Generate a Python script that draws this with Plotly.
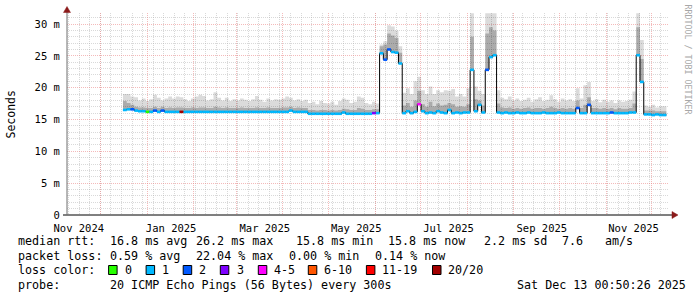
import pandas as pd
import plotly.graph_objects as go

# ---------------- data ----------------
series_start = "2024-12-16 00:00"   # first consolidated step (2.5 days each)
step_freq = "60h"

median_ms = [
    16.5, 16.6, 16.6, 16.4, 16.3, 16.3, 16.2, 16.2, 16.4, 16.2,
    16.4, 16.2, 16.2, 16.2, 16.2, 16.2, 16.2, 16.2, 16.2, 16.2,
    16.2, 16.2, 16.2, 16.2, 16.2, 16.2, 16.2, 16.2, 16.2, 16.2,
    16.2, 16.2, 16.2, 16.2, 16.2, 16.2, 16.2, 16.2, 16.2, 16.2,
    16.2, 16.2, 16.2, 16.2, 16.4, 16.2, 16.2, 16.2, 16.2, 15.9,
    15.9, 15.9, 15.9, 15.9, 15.9, 15.9, 15.9, 15.9, 16.1, 15.9,
    15.9, 15.9, 15.9, 15.9, 15.9, 15.9, 16.0, 16.0, 25.4, 24.4,
    26.0, 25.6, 25.5, 23.8, 16.0, 16.3, 16.0, 16.2, 17.4, 16.3,
    16.0, 16.1, 16.0, 16.3, 16.1, 16.0, 16.5, 16.0, 16.1, 16.0,
    16.1, 16.1, 22.8, 16.3, 17.3, 16.1, 22.8, 24.8, 25.1, 16.1,
    16.0, 16.1, 16.0, 16.0, 16.1, 16.0, 16.0, 16.1, 16.0, 16.0,
    16.0, 16.1, 16.0, 16.0, 16.0, 16.1, 16.0, 16.0, 16.0, 16.0,
    16.8, 16.0, 16.0, 17.3, 16.0, 16.0, 16.0, 16.0, 16.0, 16.1,
    16.0, 16.0, 16.0, 16.0, 16.1, 16.1, 25.1, 20.9, 15.8, 15.8,
    15.7, 15.8, 15.7, 15.7,
]

smoke_max_ms = [
    19.0, 19.0, 18.6, 18.5, 18.0, 18.3, 17.9, 18.2, 18.9, 18.4,
    18.0, 18.3, 18.6, 18.3, 18.6, 18.5, 18.2, 17.9, 18.3, 18.6,
    18.9, 18.7, 18.0, 18.2, 19.3, 18.4, 18.0, 18.4, 17.9, 18.2,
    18.0, 18.3, 18.1, 17.9, 18.2, 18.7, 18.1, 17.8, 18.3, 18.0,
    18.2, 18.1, 18.3, 18.6, 18.4, 18.0, 18.2, 17.9, 18.1, 17.6,
    17.8, 17.4, 17.9, 17.6, 17.5, 17.8, 17.3, 17.9, 18.3, 18.1,
    17.6, 17.8, 18.6, 18.4, 17.6, 17.4, 17.8, 17.5, 26.8, 27.3,
    29.8, 29.6, 29.0, 26.5, 19.2, 19.9, 19.0, 21.0, 21.7, 19.6,
    19.0, 20.2, 19.0, 19.6, 19.3, 19.6, 19.5, 19.8, 18.6, 19.0,
    18.6, 19.9, 31.7, 20.2, 19.5, 19.0, 31.7, 31.7, 31.7, 19.6,
    18.4, 18.2, 18.6, 18.0, 18.3, 17.9, 18.1, 18.4, 17.8, 18.2,
    18.5, 17.9, 18.1, 18.8, 18.2, 17.8, 18.3, 18.0, 18.2, 17.9,
    19.9, 18.3, 20.4, 20.9, 17.9, 18.2, 17.7, 18.1, 17.8, 18.0,
    17.6, 18.0, 17.8, 17.9, 18.1, 19.4, 31.7, 27.5, 17.2, 17.0,
    17.3, 16.9, 17.1, 17.1,
]

smoke_mid_ms = [
    17.9, 17.6, 17.3, 17.0, 16.9, 16.9, 16.8, 16.8, 17.0, 16.8,
    17.0, 16.8, 16.9, 16.8, 16.9, 16.9, 16.8, 16.8, 16.9, 16.8,
    16.9, 16.9, 16.8, 16.8, 17.0, 16.9, 16.8, 16.9, 16.8, 16.8,
    16.8, 16.9, 16.8, 16.8, 16.8, 16.9, 16.8, 16.8, 16.9, 16.8,
    16.8, 16.8, 16.9, 16.9, 17.0, 16.8, 16.9, 16.8, 16.8, 16.5,
    16.5, 16.4, 16.5, 16.5, 16.4, 16.5, 16.4, 16.5, 16.7, 16.6,
    16.5, 16.5, 16.8, 16.7, 16.5, 16.5, 16.6, 16.6, 26.5, 26.8,
    28.5, 28.2, 27.8, 25.5, 17.2, 17.6, 17.0, 18.0, 19.5, 17.4,
    17.0, 17.8, 17.1, 17.5, 17.2, 17.3, 17.6, 17.4, 17.0, 17.1,
    17.0, 17.4, 28.0, 18.2, 18.0, 17.2, 28.5, 29.5, 29.0, 17.5,
    16.9, 16.8, 16.9, 16.7, 16.8, 16.7, 16.8, 16.9, 16.7, 16.8,
    16.8, 16.7, 16.8, 17.0, 16.8, 16.7, 16.8, 16.7, 16.8, 16.7,
    18.0, 16.8, 17.3, 18.5, 16.8, 16.8, 16.7, 16.8, 16.7, 16.8,
    16.6, 16.8, 16.7, 16.7, 16.8, 17.5, 29.5, 24.5, 16.4, 16.4,
    16.4, 16.3, 16.3, 16.3,
]

# index into loss_labels for each step
loss_class = [
    1, 1, 2, 1, 1, 1, 0, 1, 2, 1,
    2, 1, 1, 1, 1, 7, 1, 1, 1, 1,
    1, 1, 1, 1, 1, 1, 1, 1, 1, 1,
    1, 1, 1, 1, 1, 1, 1, 1, 1, 1,
    1, 1, 1, 1, 1, 1, 1, 1, 1, 1,
    1, 1, 1, 1, 1, 1, 1, 1, 1, 1,
    1, 1, 1, 1, 1, 1, 3, 1, 1, 2,
    2, 1, 1, 1, 1, 1, 1, 1, 4, 1,
    1, 1, 1, 1, 1, 1, 1, 1, 1, 1,
    1, 1, 1, 1, 1, 1, 2, 1, 1, 1,
    1, 1, 1, 1, 1, 1, 1, 1, 1, 1,
    1, 1, 1, 1, 1, 1, 1, 1, 1, 1,
    2, 1, 1, 2, 1, 1, 1, 1, 1, 2,
    1, 1, 1, 1, 1, 1, 1, 1, 1, 1,
    1, 1, 1, 1,
]

loss_labels = ["0", "1", "2", "3", "4-5", "6-10", "11-19", "20/20"]
loss_colors = ["#26ff00", "#00b8ff", "#0059ff", "#7e00ff",
               "#ff00ff", "#ff5500", "#ff0000", "#a10000"]

y_tick_vals = [0, 5, 10, 15, 20, 25, 30]
y_tick_text = ["0", "5 m", "10 m", "15 m", "20 m", "25 m", "30 m"]
y_minor_vals = [1, 2, 3, 4, 6, 7, 8, 9, 11, 12, 13, 14, 16, 17, 18, 19,
                21, 22, 23, 24, 26, 27, 28, 29, 31]

x_label_dates = ["2024-11-16 18:00", "2025-01-16 22:00", "2025-03-19 23:00",
                 "2025-05-19 12:00", "2025-07-19 17:00", "2025-09-19 11:00",
                 "2025-11-19 06:00"]
x_label_text = ["Nov 2024", "Jan 2025", "Mar 2025", "May 2025",
                "Jul 2025", "Sep 2025", "Nov 2025"]
month_lines = pd.date_range("2024-12-01", "2025-12-01", freq="MS")
week_lines = pd.date_range("2024-11-10", "2025-12-12", freq="7D")

x_range = ["2024-11-08 22:34", "2025-12-12 17:20"]
y_range = [0, 31.73]

stat_rows = [
    ["median rtt:", "16.8 ms avg", "26.2 ms max", "15.8 ms min",
     "15.8 ms now", "2.2 ms sd", "7.6", "am/s"],
    ["packet loss:", "0.59 % avg", "22.04 % max", "0.00 % min", "0.14 % now"],
    ["loss color:"],
    ["probe:", "20 ICMP Echo Pings (56 Bytes) every 300s", "Sat Dec 13 00:50:26 2025"],
]

# ---------------- layout geometry (pixels) ----------------
FIG_W, FIG_H = 697, 297
L, R, T, B = 67, 669, 13, 215
PW, PH = R - L, B - T


def px(x):
    return (x - L) / PW


def py(y):
    return (B - y) / PH


n = len(median_ms)
times = pd.date_range(series_start, periods=n + 1, freq=step_freq)


def stepped(v):
    return list(v) + [v[-1]]


fig = go.Figure()

# smoke: light band (median .. max)
fig.add_trace(go.Scatter(x=times, y=stepped(median_ms), mode="lines",
                         line=dict(width=0, shape="hv"), hoverinfo="skip", showlegend=False))
fig.add_trace(go.Scatter(x=times, y=stepped(smoke_max_ms), mode="lines", fill="tonexty",
                         fillcolor="rgba(0,0,0,0.14)",
                         line=dict(width=0, shape="hv"), hoverinfo="skip", showlegend=False))
# smoke: dense band (median .. mid)
fig.add_trace(go.Scatter(x=times, y=stepped(median_ms), mode="lines",
                         line=dict(width=0, shape="hv"), hoverinfo="skip", showlegend=False))
fig.add_trace(go.Scatter(x=times, y=stepped(smoke_mid_ms), mode="lines", fill="tonexty",
                         fillcolor="rgba(0,0,0,0.22)",
                         line=dict(width=0, shape="hv"), hoverinfo="skip", showlegend=False))

# median black line
fig.add_trace(go.Scatter(x=times, y=stepped(median_ms), mode="lines",
                         line=dict(width=1, color="#000000", shape="hv"),
                         hoverinfo="skip", showlegend=False))

# loss-coloured median segments
for c, col in enumerate(loss_colors):
    xs, ys = [], []
    for i in range(n):
        if loss_class[i] == c:
            xs += [times[i], times[i + 1], None]
            ys += [median_ms[i], median_ms[i], None]
    if xs:
        fig.add_trace(go.Scatter(x=xs, y=ys, mode="lines",
                                 line=dict(width=2.6, color=col),
                                 connectgaps=False, hoverinfo="skip", showlegend=False))

# invisible trace for the label axis
fig.add_trace(go.Scatter(x=x_label_dates, y=[0] * len(x_label_dates), xaxis="x2",
                         mode="markers", marker=dict(opacity=0), hoverinfo="skip",
                         showlegend=False))

tick_font = dict(family="DejaVu Sans Mono", size=10.5, color="#000000")
leg_font = dict(family="DejaVu Sans Mono", size=11.7, color="#000000")

major_grid = "rgba(235,130,130,0.55)"
minor_grid = "rgba(170,170,170,0.45)"

fig.update_layout(
    width=FIG_W, height=FIG_H, autosize=False,
    margin=dict(l=L, r=FIG_W - R, t=T, b=FIG_H - B, pad=0),
    paper_bgcolor="#ffffff", plot_bgcolor="#ffffff",
    showlegend=False,
    xaxis=dict(
        type="date", range=x_range, showline=False, zeroline=False,
        tickvals=list(month_lines), ticktext=[""] * len(month_lines),
        showgrid=True, gridcolor=major_grid, griddash="1px,1px", gridwidth=1,
        ticks="",
        minor=dict(tickvals=list(week_lines), showgrid=True,
                   gridcolor=minor_grid, griddash="1px,1px", gridwidth=1, ticks=""),
        fixedrange=True,
    ),
    xaxis2=dict(
        type="date", range=x_range, overlaying="x", anchor="y", side="bottom",
        tickvals=x_label_dates, ticktext=x_label_text, showgrid=False,
        showline=False, zeroline=False, ticks="outside", ticklen=3,
        tickcolor="rgba(0,0,0,0)", tickfont=tick_font, fixedrange=True,
    ),
    yaxis=dict(
        range=y_range, showline=False, zeroline=False,
        tickvals=y_tick_vals, ticktext=y_tick_text, tickfont=tick_font,
        showgrid=True, gridcolor=major_grid, griddash="1px,1px", gridwidth=1,
        ticks="outside", ticklen=4, tickcolor="rgba(0,0,0,0)",
        minor=dict(tickvals=y_minor_vals, showgrid=True,
                   gridcolor=minor_grid, griddash="1px,1px", gridwidth=1, ticks=""),
        fixedrange=True,
    ),
)

shapes = []
# x axis line + arrow
shapes.append(dict(type="line", xref="paper", yref="paper",
                   x0=px(63), x1=px(673), y0=py(215), y1=py(215),
                   line=dict(color="#000000", width=1), layer="above"))
shapes.append(dict(type="path", xref="paper", yref="paper",
                   path=f"M {px(672)},{py(211.5)} L {px(672)},{py(218.5)} L {px(678)},{py(215)} Z",
                   fillcolor="#8b1a1a", line=dict(color="#8b1a1a", width=0.5), layer="above"))
# y axis line + arrow
shapes.append(dict(type="line", xref="paper", yref="paper",
                   x0=px(67), x1=px(67), y0=py(215), y1=py(10),
                   line=dict(color="#6e6e6e", width=1), layer="above"))
shapes.append(dict(type="path", xref="paper", yref="paper",
                   path=f"M {px(63.5)},{py(12.5)} L {px(70.5)},{py(12.5)} L {px(67)},{py(6.5)} Z",
                   fillcolor="#8b1a1a", line=dict(color="#8b1a1a", width=0.5), layer="above"))

annotations = []


def add_text(text, x, y, font=leg_font, anchor="left"):
    annotations.append(dict(text=text, xref="paper", yref="paper", x=px(x), y=py(y),
                            xanchor=anchor, yanchor="middle", showarrow=False,
                            font=font, borderpad=0))


row_y = [241, 256, 270, 285]
row0_x = [16.5, 108.6, 195.3, 294.9, 386.5, 482.6, 560.8, 604.1]
row1_x = [16.5, 108.6, 195.3, 288.2, 374.4]
row3_x = [16.5, 108.6, 516.1]
for t, x in zip(stat_rows[0], row0_x):
    add_text(t, x, row_y[0])
for t, x in zip(stat_rows[1], row1_x):
    add_text(t, x, row_y[1])
add_text(stat_rows[2][0], 16.5, row_y[2])
for t, x in zip(stat_rows[3], row3_x):
    add_text(t, x, row_y[3])

box_x = [108.6, 146.1, 183.2, 220.3, 258.3, 308.3, 366.4, 432.5]
lab_x = [124.2, 160.9, 198.0, 236.0, 272.6, 322.6, 380.7, 446.8]
for lbl, col, bx, lx in zip(loss_labels, loss_colors, box_x, lab_x):
    shapes.append(dict(type="rect", xref="paper", yref="paper",
                       x0=px(bx), x1=px(bx + 8.5), y0=py(274.5), y1=py(265.5),
                       fillcolor=col, line=dict(color="#000000", width=1), layer="above"))
    add_text(lbl, lx, row_y[2])

# axis title
annotations.append(dict(text="Seconds", xref="paper", yref="paper", x=px(10.5), y=py(115),
                        xanchor="center", yanchor="middle", textangle=-90, showarrow=False,
                        font=dict(family="DejaVu Sans Mono", size=11.5, color="#000000")))
# watermark
annotations.append(dict(text="RRDTOOL / TOBI OETIKER", xref="paper", yref="paper",
                        x=px(687.5), y=py(60), xanchor="center", yanchor="middle",
                        textangle=90, showarrow=False,
                        font=dict(family="DejaVu Sans Mono", size=8.3, color="#a8a8a8")))

fig.update_layout(shapes=shapes, annotations=annotations)
fig.write_html("out.html")
